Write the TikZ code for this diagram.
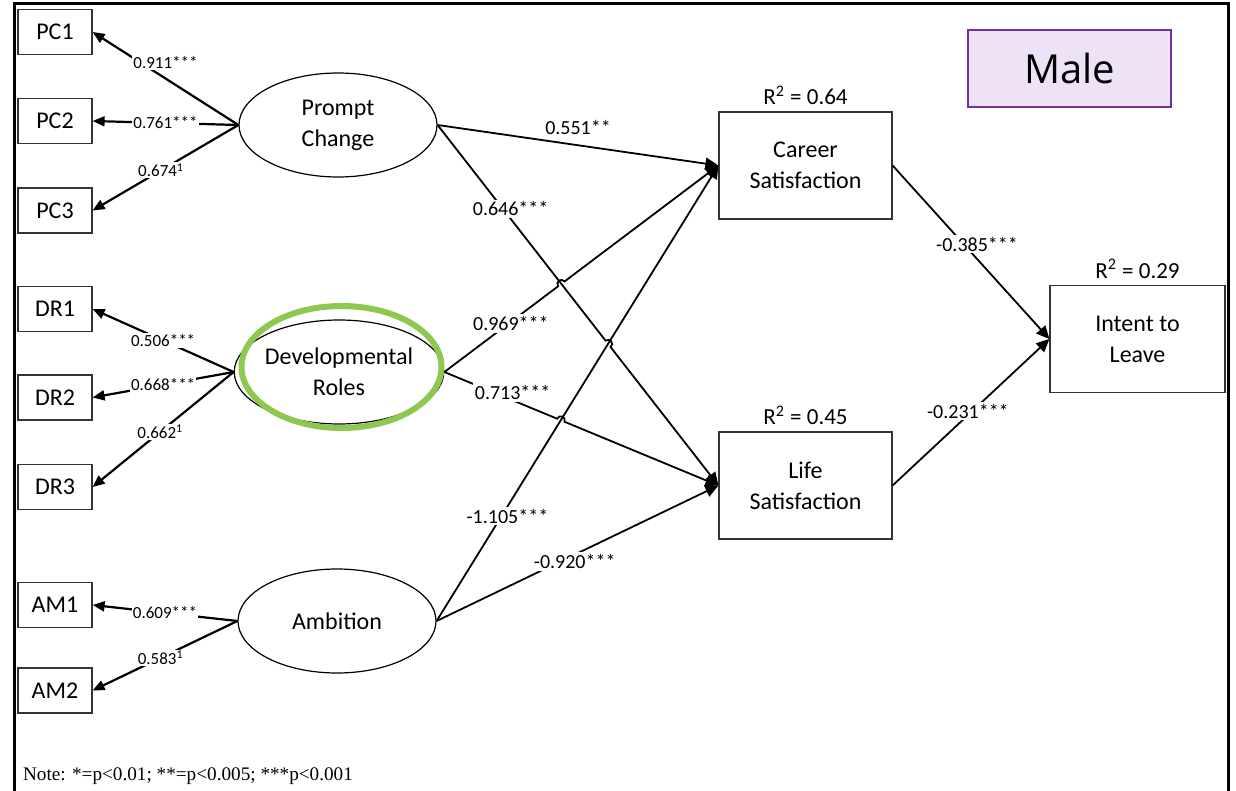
\documentclass[tikz,border=0pt]{standalone}
\usepackage{fontspec}
\setmainfont{Carlito}
\newfontfamily\malefont{Open Sans}
\newfontfamily\notefont{Liberation Serif}
\usepackage{tikz}
\usetikzlibrary{shapes.geometric, arrows.meta, positioning, calc, intersections}
\definecolor{hlgreen}{RGB}{141,200,80}
\definecolor{malepurple}{RGB}{112,48,160}
\definecolor{malefill}{RGB}{238,226,246}

\begin{document}
\begin{tikzpicture}[x=0.5pt, y=-0.5pt,
	obs/.style={draw=black!80, line width=0.6pt, minimum width=37pt, minimum height=22.5pt, inner sep=0pt, font=\fontsize{12}{15.5}\selectfont},
	latent/.style={draw, ellipse, line width=0.6pt, minimum width=99pt, minimum height=52pt, inner sep=0pt, align=center, font=\fontsize{12}{15.5}\selectfont},
	outcome/.style={draw=black!80, line width=0.6pt, minimum width=86.5pt, minimum height=53.5pt, inner sep=0pt, align=center, font=\fontsize{12}{15.5}\selectfont},
	load/.style={-{Triangle[length=6pt, width=5pt]}, line width=1.1pt},
	effect/.style={-{Triangle[length=6.5pt, width=6pt]}, line width=0.9pt},
	lload/.style={font=\fontsize{8.5}{10}\selectfont, fill=white, inner sep=0.6pt},
	leff/.style={font=\fontsize{10}{12}\selectfont, fill=white, inner sep=1pt},
	rsq/.style={font=\fontsize{11.5}{13}\selectfont, inner sep=0pt}]
	
	\useasboundingbox (0,0) rectangle (1236,791);
	
	% 外框
	\draw[line width=1.5pt] (14,791) -- (14,4) -- (1228,4) -- (1228,791);
	
	% 观测变量
	\node[obs] (pc1) at (55,32) {PC1};
	\node[obs] (pc2) at (55,121) {PC2};
	\node[obs] (pc3) at (55,210.5) {PC3};
	\node[obs] (dr1) at (55,309) {DR1};
	\node[obs] (dr2) at (55,397.5) {DR2};
	\node[obs] (dr3) at (55,487) {DR3};
	\node[obs] (am1) at (55,605) {AM1};
	\node[obs] (am2) at (55,690.5) {AM2};
	
	% 潜变量
	\node[latent] (pc) at (338,125) {Prompt\\Change};
	\node[latent] (dr) at (339,372) {Developmental\\Roles};
	\node[latent] (am) at (337,621) {Ambition};
	\draw[hlgreen, line width=3pt] (341.5,367) ellipse [x radius=50pt, y radius=30.5pt];
	
	% 结果变量
	\node[outcome] (cs) at (805.5,165.5) {Career\\Satisfaction};
	\node[outcome] (ls) at (805.5,485.5) {Life\\Satisfaction};
	\node[outcome, minimum width=87.5pt] (itl) at (1137.5,339) {Intent to\\Leave};
	\node[rsq, above=3pt of cs] (r2cs) {R\textsuperscript{2} = 0.64};
	\node[rsq, above=3pt of ls] (r2ls) {R\textsuperscript{2} = 0.45};
	\node[rsq, above=3pt of itl] (r2itl) {R\textsuperscript{2} = 0.29};
	
	% 标签
	\node[draw=malepurple, fill=malefill, line width=1.2pt, minimum width=101.5pt, minimum height=38.5pt, font=\malefont\fontsize{20}{24}\selectfont] (male) at (1069.5,68.5) {Male};
	
	% 因子载荷
	\draw[load] (pc.west) -- node[lload, yshift=8pt] {0.911***} (pc1.east);
	\draw[load] (pc.west) -- node[lload] {0.761***} (pc2.east);
	\draw[load] (pc.west) -- node[lload, pos=0.53] {0.674\textsuperscript{1}} (pc3.east);
	\draw[load] (dr.west) -- node[lload] {0.506***} (dr1.east);
	\draw[load] (dr.west) -- node[lload] {0.668***} (dr2.east);
	\draw[load] (dr.west) -- node[lload, pos=0.52] {0.662\textsuperscript{1}} (dr3.east);
	\draw[load] (am.west) -- node[lload] {0.609***} (am1.east);
	\draw[load] (am.west) -- node[lload, pos=0.53] {0.583\textsuperscript{1}} (am2.east);
	
	% 交叉点
	\path[name path=pcls] (pc.east) -- (ls.west);
	\path[name path=drcs] (dr.east) -- (cs.west);
	\path[name path=drls] (dr.east) -- (ls.west);
	\path[name path=amcs] (am.east) -- (cs.west);
	\path[name intersections={of=pcls and drcs, by=h1}];
	\path[name intersections={of=pcls and amcs, by=h2}];
	\path[name intersections={of=drls and amcs, by=h3}];
	
	% 路径
	\draw[effect] (pc.east) -- node[above=4pt, font=\fontsize{10}{12}\selectfont, inner sep=1pt] {0.551**} (cs.west);
	\draw[effect] (pc.east) -- ($(h2)!2pt!(pc.east)$) to[bend left=90, looseness=1.7] ($(h2)!2pt!(ls.west)$) -- (ls.west);
	\draw[effect] (dr.east) -- ($(h1)!2pt!(dr.east)$) to[bend left=90, looseness=1.7] ($(h1)!2pt!(cs.west)$) -- (cs.west);
	\draw[effect] (dr.east) -- ($(h3)!2pt!(dr.east)$) to[bend left=90, looseness=1.7] ($(h3)!2pt!(ls.west)$) -- (ls.west);
	\draw[effect] (am.east) -- (cs.west);
	\draw[effect] (am.east) -- (ls.west);
	\draw[effect] (cs.east) -- (itl.west);
	\draw[effect] (ls.east) -- (itl.west);
	
	% 路径系数
	\path (pc.east) -- node[leff, pos=0.26, yshift=5pt] {0.646***} (ls.west);
	\path (dr.east) -- node[leff, pos=0.25, xshift=-1pt, yshift=-1.5pt] {0.969***} (cs.west);
	\path (dr.east) -- node[leff, pos=0.26, xshift=-1.5pt, yshift=4.5pt] {0.713***} (ls.west);
	\path (am.east) -- node[leff, pos=0.23, xshift=3pt] {-1.105***} (cs.west);
	\path (am.east) -- node[leff, pos=0.49, yshift=-3.5pt] {-0.920***} (ls.west);
	\path (cs.east) -- node[leff, pos=0.5, xshift=3pt, yshift=4pt] {-0.385***} (itl.west);
	\path (ls.east) -- node[leff, pos=0.48, yshift=2pt] {-0.231***} (itl.west);
	
	% 注释
	\node[anchor=west, font=\notefont\fontsize{9.6}{11}\selectfont] (note) at (16,776) {Note: *=p<0.01; **=p<0.005; ***p<0.001};
\end{tikzpicture}
\end{document}
